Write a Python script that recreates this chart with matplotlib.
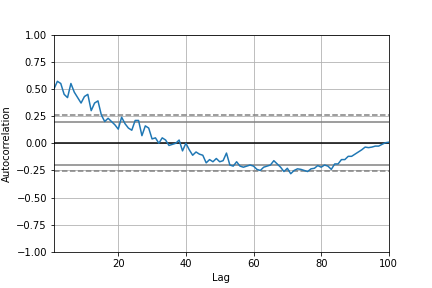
import numpy as np
import matplotlib
matplotlib.use("Agg")
import matplotlib.pyplot as plt

lags = list(range(1, 101))
acf = [0.50, 0.57, 0.55, 0.45, 0.42, 0.55, 0.47, 0.42, 0.37, 0.43,
       0.45, 0.30, 0.37, 0.39, 0.26, 0.20, 0.23, 0.20, 0.17, 0.13,
       0.24, 0.18, 0.14, 0.12, 0.21, 0.21, 0.07, 0.16, 0.14, 0.04,
       0.05, 0.00, 0.05, 0.03, -0.02, -0.01, 0.00, 0.03, -0.07, 0.00,
       -0.06, -0.11, -0.08, -0.10, -0.11, -0.18, -0.15, -0.17, -0.14, -0.17,
       -0.16, -0.09, -0.20, -0.21, -0.17, -0.21, -0.22, -0.21, -0.20, -0.21,
       -0.24, -0.25, -0.22, -0.21, -0.20, -0.16, -0.19, -0.22, -0.26, -0.23,
       -0.28, -0.25, -0.235, -0.24, -0.25, -0.26, -0.235, -0.23, -0.205, -0.22,
       -0.20, -0.21, -0.24, -0.19, -0.19, -0.15, -0.15, -0.12, -0.12, -0.10,
       -0.08, -0.06, -0.035, -0.04, -0.035, -0.026, -0.026, -0.01, 0.005, 0.01]
n_obs = 100
z95 = 1.959963984540054
z99 = 2.5758293035489004

fig = plt.figure(figsize=(6, 4), dpi=72)
fig.subplots_adjust(left=0.125, right=0.9, top=0.88, bottom=0.125)
ax = fig.add_subplot(111)
ax.set_xlim(1, n_obs)
ax.set_ylim(-1.0, 1.0)
ax.axhline(y=z99 / np.sqrt(n_obs), linestyle="--", color="grey")
ax.axhline(y=z95 / np.sqrt(n_obs), color="grey")
ax.axhline(y=0.0, color="black")
ax.axhline(y=-z95 / np.sqrt(n_obs), color="grey")
ax.axhline(y=-z99 / np.sqrt(n_obs), linestyle="--", color="grey")
ax.set_xlabel("Lag")
ax.set_ylabel("Autocorrelation")
ax.plot(lags, acf)
ax.grid()
fig.savefig("out.png", dpi=72)
